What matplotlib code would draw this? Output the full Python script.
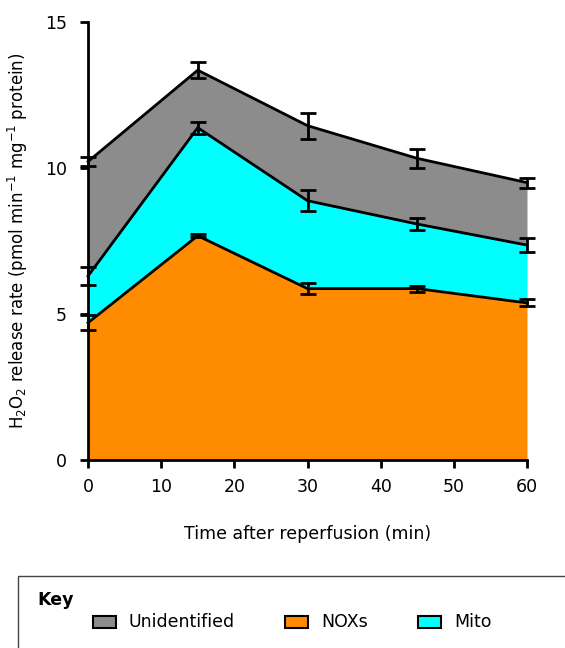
import numpy as np
import matplotlib
matplotlib.use('Agg')
import matplotlib.pyplot as plt
from matplotlib.patches import Rectangle

# --- data (cumulative stacked tops) ---
time_min = [0, 15, 30, 45, 60]
noxs_top = [4.7, 7.68, 5.87, 5.87, 5.38]
noxs_err = [0.25, 0.05, 0.2, 0.1, 0.12]
mito_top = [6.3, 11.38, 8.88, 8.08, 7.36]
mito_err = [0.3, 0.2, 0.35, 0.2, 0.23]
unid_top = [10.22, 13.35, 11.45, 10.33, 9.5]
unid_err = [0.15, 0.27, 0.45, 0.32, 0.17]

c_unid = '#8c8c8c'
c_noxs = '#ff8c00'
c_mito = '#00ffff'

plt.rcParams['font.family'] = 'DejaVu Sans'

fig = plt.figure(figsize=(5.65, 6.48), dpi=100)
ax = fig.add_axes([88/565, 1 - 460/648, 439/565, 438/648])

x = np.array(time_min)
ax.fill_between(x, 0, noxs_top, color=c_noxs, lw=0)
ax.fill_between(x, noxs_top, mito_top, color=c_mito, lw=0)
ax.fill_between(x, mito_top, unid_top, color=c_unid, lw=0)

for top, err in [(noxs_top, noxs_err), (mito_top, mito_err), (unid_top, unid_err)]:
    ax.plot(x, top, color='black', lw=2, clip_on=False, zorder=3)
    ax.errorbar(x, top, yerr=err, fmt='none', ecolor='black', elinewidth=2,
                capsize=5.5, capthick=2, clip_on=False, zorder=4)

ax.set_xlim(0, 60)
ax.set_ylim(0, 15)
ax.set_xticks([0, 10, 20, 30, 40, 50, 60])
ax.set_yticks([0, 5, 10, 15])
for s in ['top', 'right']:
    ax.spines[s].set_visible(False)
for s in ['left', 'bottom']:
    ax.spines[s].set_linewidth(2)
ax.tick_params(width=2, length=6, labelsize=12.5, colors='black')
ax.tick_params(axis='y', pad=9)
ax.tick_params(axis='x', pad=7)

ax.set_xlabel('Time after reperfusion (min)', fontsize=12.5, labelpad=21)
ax.set_ylabel('H$_2$O$_2$ release rate (pmol min$^{-1}$ mg$^{-1}$ protein)',
              fontsize=12, labelpad=11)

# --- key box ---
W, H = 565, 648
fig.patches.append(Rectangle((18/W, 1 - 680/H), 560/W, 104/H, transform=fig.transFigure,
                             fill=False, edgecolor='#444444', lw=1, clip_on=False))
fig.text(37/W, 1 - 600/H, 'Key', fontsize=12.5, fontweight='bold', va='center')
for x0, col, lab in [(93, c_unid, 'Unidentified'), (285, c_noxs, 'NOXs'), (418, c_mito, 'Mito')]:
    fig.patches.append(Rectangle((x0/W, 1 - 628/H), 23/W, 12/H, transform=fig.transFigure,
                                 facecolor=col, edgecolor='black', lw=1.5))
    fig.text((x0 + 36)/W, 1 - 622/H, lab, fontsize=12.5, va='center')

fig.savefig('out.png', dpi=100)
